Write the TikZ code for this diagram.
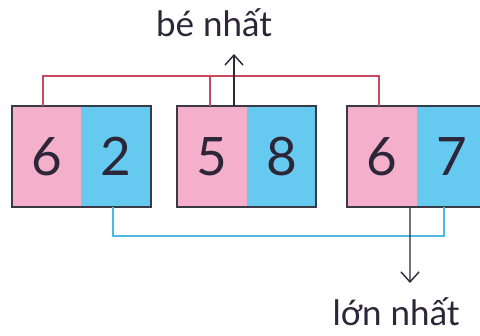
\documentclass[tikz,border=0pt]{standalone}
\usepackage{fontspec}
\setmainfont{Lato}
\usetikzlibrary{arrows.meta}
\definecolor{hong}{HTML}{F4AFCB}
\definecolor{xanh}{HTML}{66C9EF}
\definecolor{vien}{HTML}{3A3A44}
\definecolor{chu}{HTML}{2C2638}
\definecolor{do}{HTML}{C94A5C}
\definecolor{xanhday}{HTML}{4DB8E4}
\tikzset{
  o/.style={minimum width=69.5pt, minimum height=101pt, inner sep=0pt,
    text=chu, font=\fontsize{53}{53}\selectfont},
  hop/.style={draw=vien, line width=2pt},
  noi/.style={line width=1.6pt},
  mui/.style={draw=chu, line width=1.4pt, -{Straight Barb[length=10pt,width=18pt,line width=1.4pt]}},
  nhan/.style={anchor=base, text=chu, font=\fontsize{35}{35}\selectfont}
}
\begin{document}
\begin{tikzpicture}[x=1pt,y=-1pt]
  \useasboundingbox (0,0) rectangle (480,336);
  \clip (0,0) rectangle (480,336);
  \fill[white] (0,0) rectangle (480,336);

  % the three cards
  \node[o, fill=hong] (a1) at (46.5,156.5) {6};
  \node[o, fill=xanh] (b1) at (116,156.5) {2};
  \node[o, fill=hong] (a2) at (212,156.5) {5};
  \node[o, fill=xanh] (b2) at (281.5,156.5) {8};
  \node[o, fill=hong] (a3) at (382,156.5) {6};
  \node[o, fill=xanh] (b3) at (451.5,156.5) {7};
  \draw[hop] (a1.north west) rectangle (b1.south east);
  \draw[hop] (a2.north west) rectangle (b2.south east);
  \draw[hop] (a3.north west) rectangle (b3.south east);

  % labels
  \node[nhan] (be) at (214,37) {bé nhất};
  \node[nhan] (lon) at (396,326) {lớn nhất};

  % red line over the pink cells
  \draw[noi, do] ([xshift=-3.5pt]a1.north) -- ++(0,-30) -| ([xshift=-3pt]a3.north);
  \draw[noi, do] ([xshift=-2pt]a2.north) -- ++(0,-30);
  % blue line under the blue cells
  \draw[noi, xanhday] ([xshift=-3pt]b1.south) -- ++(0,29) -| ([xshift=-7.5pt]b3.south);

  % arrows
  \coordinate (tren) at (234,54);
  \coordinate (duoi) at (410,283);
  \draw[mui] ([xshift=22pt]a2.north) -- (tren);
  \draw[mui] ([xshift=-7pt]a3.south east) -- (duoi);
\end{tikzpicture}
\end{document}
